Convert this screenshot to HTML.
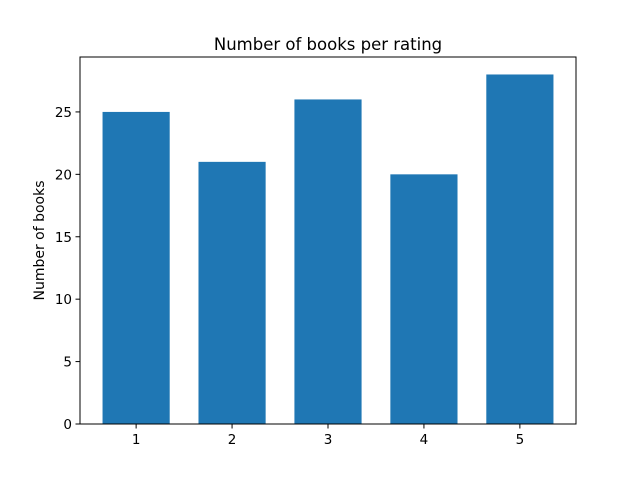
<!DOCTYPE html>
<html><head><meta charset="utf-8"><style>
body{margin:0;background:#fff;}
svg text{font-family:"DejaVu Sans","Liberation Sans",sans-serif;fill:#000;}
</style></head><body>
<svg id="chart" width="640" height="476" xmlns="http://www.w3.org/2000/svg">
<rect width="640" height="476" fill="#fff"/>
<text x="328" y="50" font-size="16.5" text-anchor="middle">Number of books per rating</text>
<text transform="translate(44,240.5) rotate(-90)" font-size="14" text-anchor="middle">Number of books</text>
<g id="bars"></g><g id="ticks"></g>
<rect x="80" y="57" width="496" height="367" fill="none" stroke="#000" stroke-width="1"/>
</svg>
<script>
const categories=[1,2,3,4,5];
const values=[25,21,26,20,28];
const yTicks=[0,5,10,15,20,25];
const L=80,R=576,T=57,B=424;
const xmin=0.415,xmax=5.585,ymax=29.4;
const x=v=>L+(v-xmin)/(xmax-xmin)*(R-L);
const y=v=>B-v/ymax*(B-T);
const NS="http://www.w3.org/2000/svg";
const bars=document.getElementById('bars'),ticks=document.getElementById('ticks');
function mk(t,a){const e=document.createElementNS(NS,t);for(const k in a)e.setAttribute(k,a[k]);return e;}
categories.forEach((c,i)=>{
 const r=mk('rect',{x:x(c-0.35),y:y(values[i]),width:x(c+0.35)-x(c-0.35),height:y(0)-y(values[i]),fill:'#1f77b4'});
 
 
 bars.appendChild(r);
 const l=mk('line',{x1:x(c),x2:x(c),y1:B,y2:B+4.5,stroke:'#000'});
 
 
 ticks.appendChild(l);
 const t=mk('text',{x:x(c),y:B+20,'font-size':'13.5','text-anchor':'middle'});
 t.textContent=c;
 
 
 ticks.appendChild(t);
});
yTicks.forEach(v=>{
 const l=mk('line',{x1:L-4.5,x2:L,y1:y(v),y2:y(v),stroke:'#000'});
 
 
 ticks.appendChild(l);
 const t=mk('text',{x:L-8,y:y(v)+5,'font-size':'13.5','text-anchor':'end'});
 t.textContent=v;
 
 
 ticks.appendChild(t);
});
</script>
</body></html>
